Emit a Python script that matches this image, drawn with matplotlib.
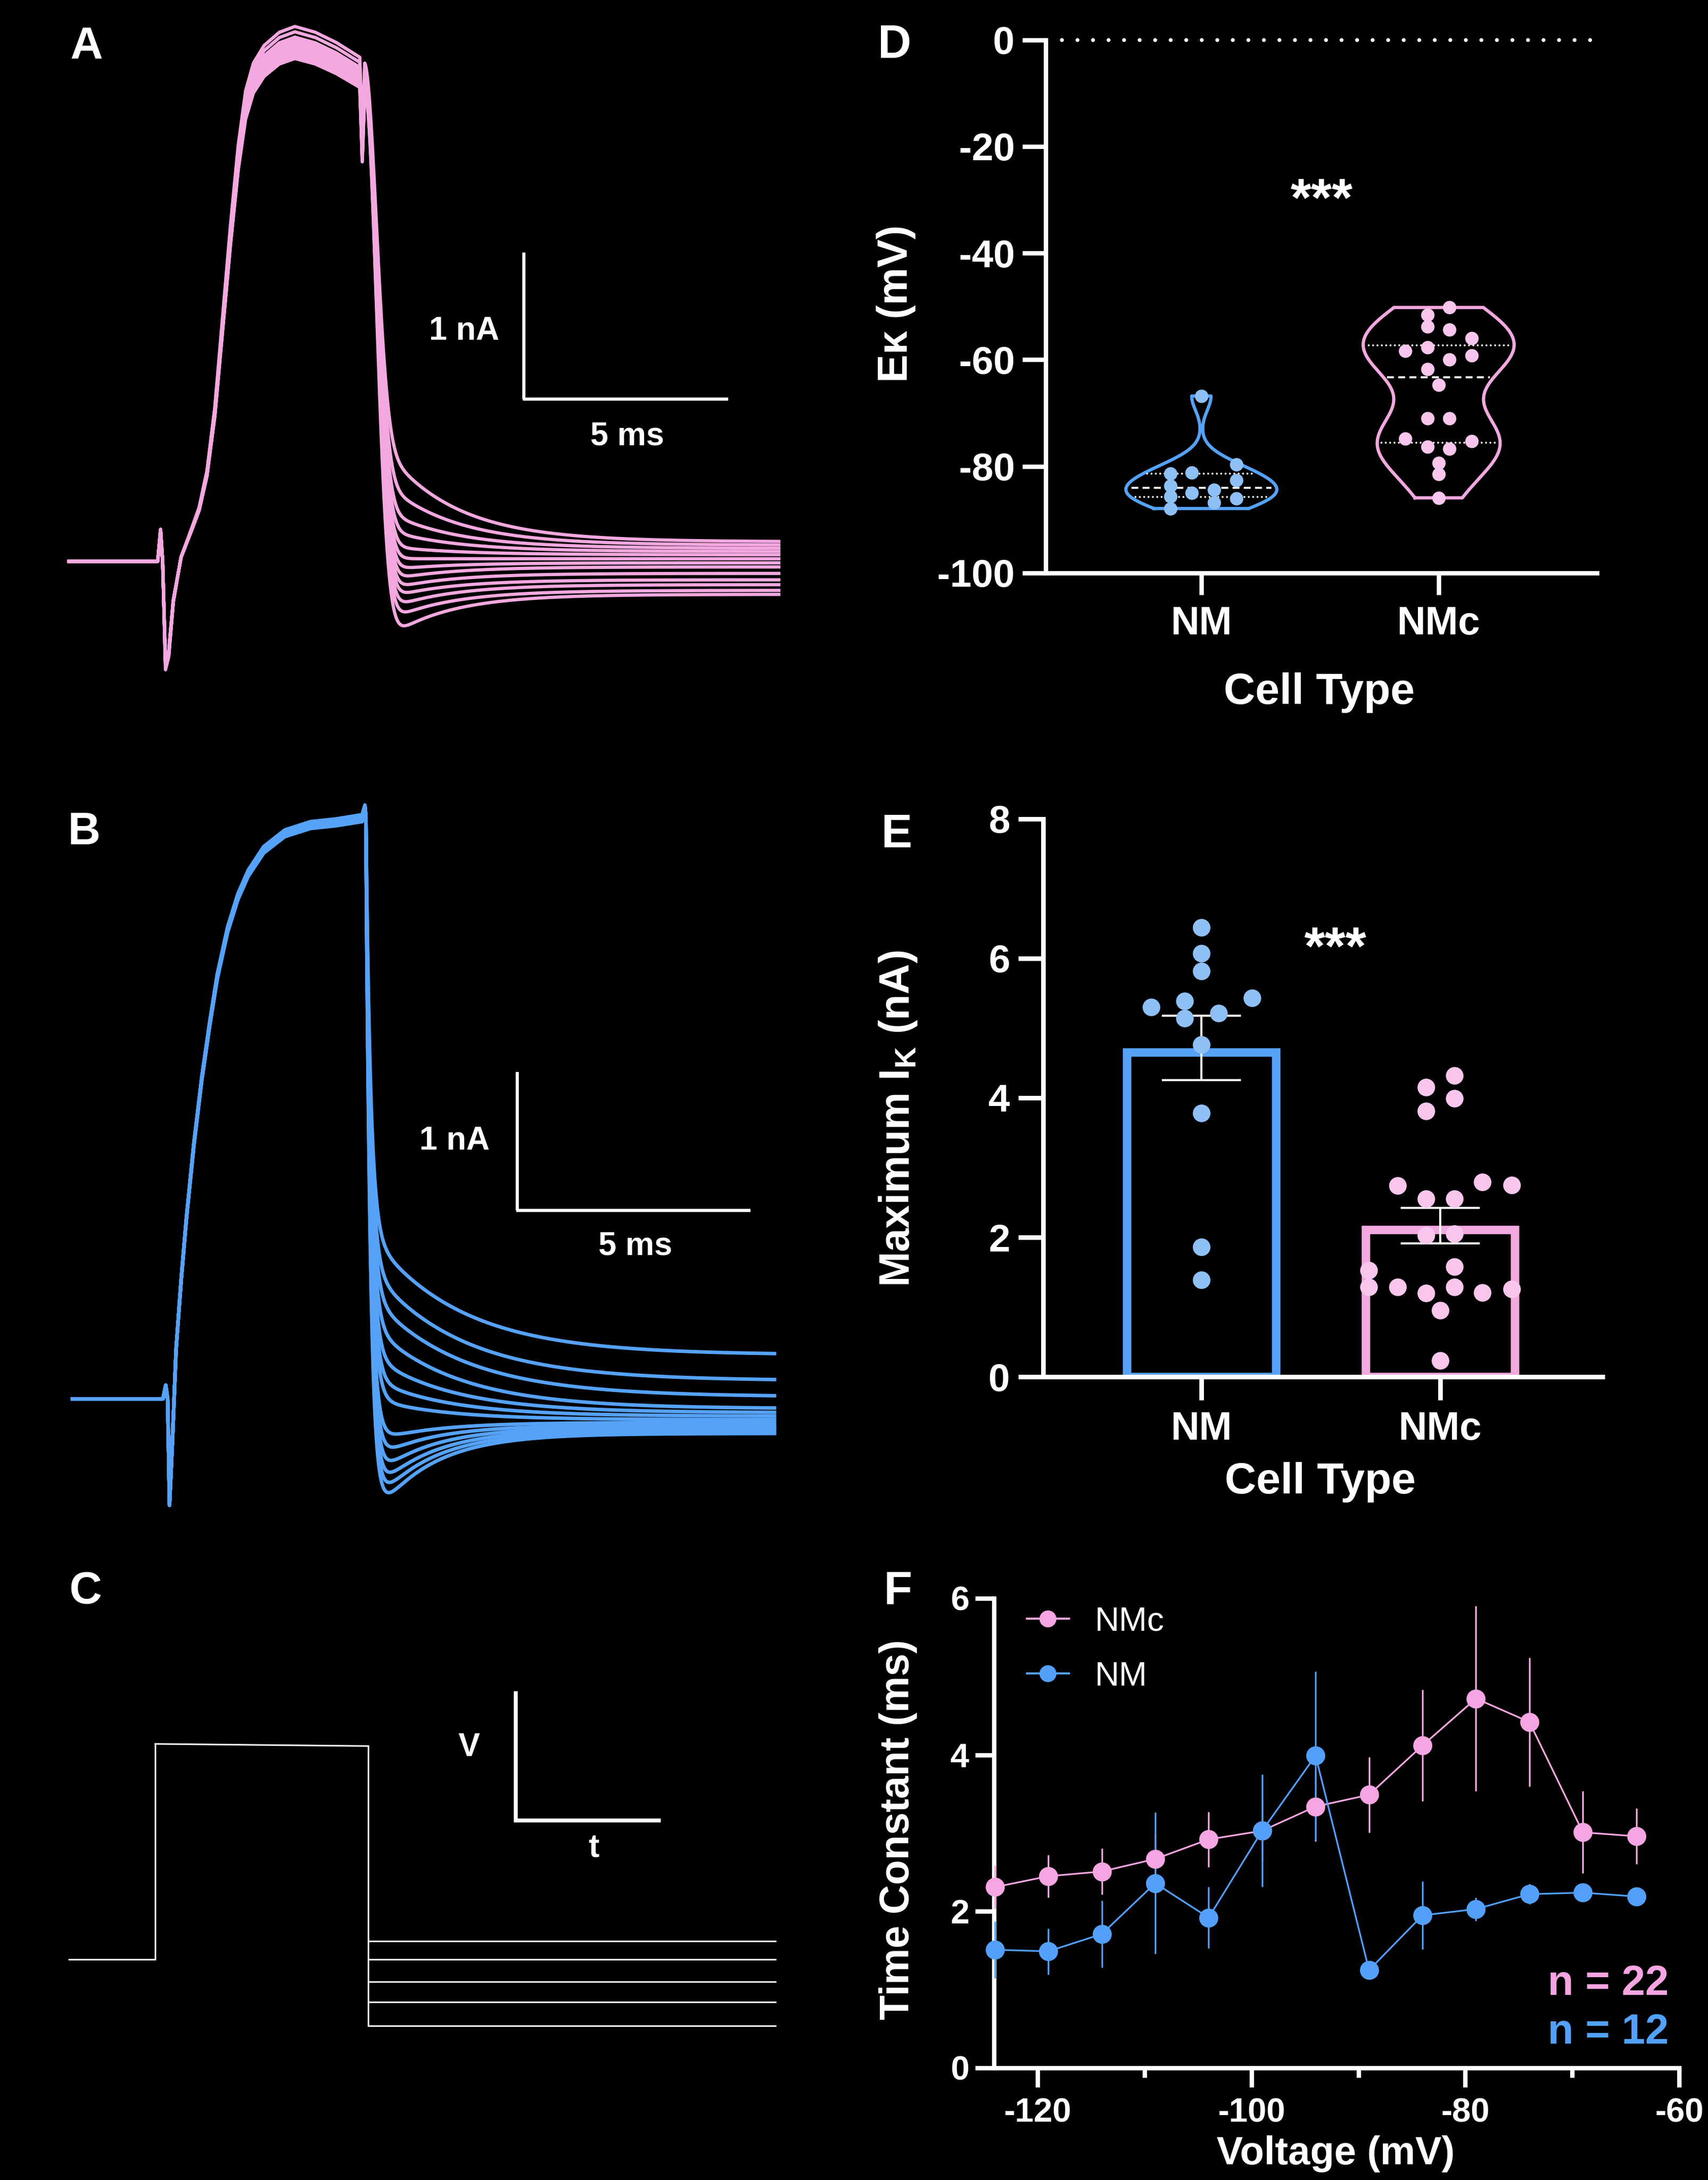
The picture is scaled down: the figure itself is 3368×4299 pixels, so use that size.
import numpy as np
import matplotlib
matplotlib.use("Agg")
import matplotlib.pyplot as plt
from matplotlib.lines import Line2D

plt.rcParams['font.family'] = ['Liberation Sans', 'DejaVu Sans']
plt.rcParams['mathtext.default'] = 'regular'

W, H, DPI = 3368, 4299, 100

# ============================ DATA ============================
cell_types = ['NM', 'NMc']

# Panel A: NMc current traces (time in ms, current in nA)
a_step_t = [0.0, 2.10, 2.16, 2.23, 2.28, 2.35, 2.43, 2.54, 2.73, 2.98, 3.17, 3.36, 3.55,
            3.74, 3.93, 4.12, 4.30, 4.49, 4.75, 5.12, 5.50, 6.00, 6.51, 7.08, 7.14, 7.20]
a_step_i = [0.0, 0.0, 0.0, 0.22, 0.0, -0.74, -0.65, -0.28, 0.03, 0.22, 0.37, 0.62, 1.05,
            1.67, 2.29, 2.84, 3.21, 3.40, 3.52, 3.61, 3.65, 3.61, 3.54, 3.44, 2.90, 3.40]
a_plateau_scale = [1.0, 0.99, 0.98, 0.975, 0.97, 0.965, 0.96, 0.955, 0.95, 0.948, 0.945, 0.942, 0.94]
a_tail_ss = [0.134, 0.111, 0.089, 0.067, 0.045, 0.018, -0.010, -0.038, -0.082, -0.126, -0.159, -0.198, -0.225]
a_tail_amp = [0.84, 0.56, 0.34, 0.20, 0.08, 0.0, -0.07, -0.13, -0.16, -0.18, -0.24, -0.30, -0.43]
a_tail_tau = [1.7, 1.7, 1.7, 1.7, 1.7, 1.6, 1.5, 1.5, 1.5, 1.5, 1.5, 1.5, 1.5]
a_fall_tau = 0.40
a_t_end = 17.28

# Panel B: NM current traces
b_step_t = [0.0, 1.93, 1.99, 2.03, 2.07, 2.13, 2.21, 2.32, 2.43, 2.59, 2.76, 2.93, 3.09,
            3.31, 3.53, 3.75, 4.08, 4.53, 5.08, 5.63, 6.18, 6.24, 6.26]
b_step_i = [0.0, 0.0, 0.10, 0.0, -0.77, -0.32, 0.36, 0.87, 1.31, 1.85, 2.33, 2.73, 3.07,
            3.41, 3.65, 3.82, 3.99, 4.11, 4.17, 4.19, 4.22, 4.29, 4.22]
b_plateau_scale = [1.0, 0.999, 0.998, 0.997, 0.996, 0.995, 0.994, 0.993, 0.992, 0.991, 0.990, 0.989, 0.988]
b_tail_ss = [0.318, 0.131, 0.015, -0.071, -0.10, -0.125, -0.15, -0.17, -0.19, -0.205, -0.22, -0.235, -0.25]
b_tail_amp = [0.91, 0.85, 0.77, 0.64, 0.44, 0.29, 0.165, -0.15, -0.28, -0.41, -0.52, -0.61, -0.70]
b_tail_tau = [1.9, 1.9, 1.9, 1.8, 1.7, 1.6, 1.5, 1.3, 1.2, 1.2, 1.2, 1.2, 1.2]
b_fall_tau = 0.10
b_t_end = 14.98

# Panel C: voltage protocol (time in ms, relative voltage units)
c_times = [0.0, 2.10, 7.29, 17.2]
c_hold = 0.0
c_step = [1.0, 0.99]
c_tails = [0.085, 0.0, -0.103, -0.198, -0.309]

# Panel D: E_K (mV)
d_nm = [-66.8, -79.6, -81.4, -81.2, -82.6, -83.6, -85.0, -84.4, -85.6, -86.0, -86.8, -87.9]
d_nm_off = [0.0, 0.147, -0.131, -0.041, 0.147, -0.131, -0.041, 0.053, -0.131, 0.147, 0.053, -0.131]
d_nmc = [-50.2, -51.6, -53.8, -54.3, -56.0, -58.3, -57.7, -59.2, -60.0, -61.8, -64.7,
         -71.0, -71.0, -74.8, -75.3, -76.3, -76.7, -79.4, -81.5, -85.9]
d_nmc_off = [0.046, -0.046, -0.046, 0.046, 0.140, -0.140, -0.046, 0.140, 0.046, -0.046, 0.0,
             -0.046, 0.046, -0.140, 0.140, -0.046, 0.046, 0.0, 0.0, 0.0]
d_yticks = [0, -20, -40, -60, -80, -100]

# Panel E: maximum I_K (nA)
e_nm = [6.44, 6.07, 5.82, 5.43, 5.39, 5.30, 5.21, 5.14, 4.76, 3.78, 1.86, 1.39]
e_nm_off = [0.0, 0.0, 0.0, 0.213, -0.069, -0.210, 0.073, -0.069, 0.0, 0.0, 0.0, 0.0]
e_nmc = [4.32, 4.15, 3.99, 3.81, 2.79, 2.75, 2.74, 2.55, 2.55, 2.03, 2.05, 1.53, 1.58,
         1.29, 1.29, 1.29, 1.26, 1.20, 1.21, 0.95, 0.23]
e_nmc_off = [0.059, -0.059, 0.059, -0.059, 0.176, 0.299, -0.178, -0.059, 0.059, -0.059, 0.059,
             -0.299, 0.059, -0.299, -0.178, 0.059, 0.299, -0.059, 0.176, 0.0, 0.0]
e_yticks = [0, 2, 4, 6, 8]

# Panel F: time constant (ms) vs voltage (mV)
f_volt = [-124, -119, -114, -109, -104, -99, -94, -89, -84, -79, -74, -69, -64]
f_nmc_mean = [2.31, 2.45, 2.51, 2.67, 2.92, 3.03, 3.34, 3.49, 4.12, 4.72, 4.42, 3.01, 2.96]
f_nmc_sem = [0.275, 0.27, 0.295, 0.32, 0.355, 0.39, 0.445, 0.485, 0.715, 1.18, 0.825, 0.525, 0.355]
f_nm_mean = [1.51, 1.49, 1.71, 2.36, 1.92, 3.03, 3.99, 1.25, 1.95, 2.03, 2.22, 2.24, 2.19]
f_nm_sem = [0.36, 0.295, 0.43, 0.905, 0.39, 0.72, 1.08, 0.03, 0.435, 0.15, 0.13, 0.03, 0.02]
f_xticks = [-120, -100, -80, -60]
f_xminor = [-110, -90, -70]
f_yticks = [0, 2, 4, 6]
f_n = {'NMc': 22, 'NM': 12}

# ============================ STYLE ============================
PINK = '#F3A8DF'
PINK_PT = '#F8C6EC'
BLUE = '#55A2F8'
BLUE_PT = '#8EC0F6'
PINK_F = '#F5A5E1'
BLUE_F = '#52A0FA'

fig = plt.figure(figsize=(W / DPI, H / DPI), dpi=DPI, facecolor='black')


def add_ax(x0, y0, x1, y1):
    ax = fig.add_axes([x0 / W, 1 - y1 / H, (x1 - x0) / W, (y1 - y0) / H])
    ax.set_facecolor('none')
    return ax


def ctext(x, y, s, size, weight='bold', ha='center', rotation=0, color='white'):
    """Place text so that the cap-height centre sits at pixel (x, y)."""
    off = 0.358 * size * DPI / 72.0
    if rotation == 0:
        fig.text(x / W, 1 - (y + off) / H, s, fontsize=size, fontweight=weight,
                 ha=ha, va='baseline', color=color)
    else:
        fig.text((x + off) / W, 1 - y / H, s, fontsize=size, fontweight=weight,
                 ha=ha, va='baseline', rotation=90, rotation_mode='anchor', color=color)


def trace_axes(box, x0px, ppt, y0px, ppi):
    L, T, R, B = box
    ax = add_ax(L, T, R, B)
    ax.set_xlim((L - x0px) / ppt, (R - x0px) / ppt)
    ax.set_ylim((y0px - B) / ppi, (y0px - T) / ppi)
    ax.axis('off')
    return ax


def build_traces(step_t, step_i, scales, ss, amp, tau, fall_tau, fall_pow, t_end):
    st = np.asarray(step_t, float)
    si = np.asarray(step_i, float)
    te = st[-1]
    tt = np.linspace(te, t_end, 900)
    dt = tt - te
    out = []
    for k in range(len(ss)):
        i_step = si * scales[k]
        i0 = i_step[-1]
        fast = (i0 - ss[k] - amp[k]) * np.exp(-(dt / fall_tau) ** fall_pow)
        tail = ss[k] + fast + amp[k] * np.exp(-dt / tau[k])
        out.append((np.concatenate([st, tt[1:]]), np.concatenate([i_step, tail[1:]])))
    return out


# ---------------- Panel A ----------------
axA = trace_axes((55, 9, 1675, 1454), 136, 81.0, 1107, 289.0)
for t, i in build_traces(a_step_t, a_step_i, a_plateau_scale, a_tail_ss, a_tail_amp,
                         a_tail_tau, a_fall_tau, 2, a_t_end):
    axA.plot(t, i, color=PINK, lw=4.6, solid_joinstyle='round', clip_on=False)
axA.plot([11.08, 11.08], [2.107, 1.107], color='white', lw=4.5, solid_capstyle='butt')
axA.plot([11.05, 16.05], [1.107, 1.107], color='white', lw=4.5, solid_capstyle='butt')
ctext(915, 647, '1 nA', 46)
ctext(1237, 855, '5 ms', 46)
ctext(171, 85, 'A', 64)

# ---------------- Panel B ----------------
axB = trace_axes((55, 1560, 1675, 3040), 143, 92.4, 2758.6, 273.0)
for t, i in build_traces(b_step_t, b_step_i, b_plateau_scale, b_tail_ss, b_tail_amp,
                         b_tail_tau, b_fall_tau, 1, b_t_end):
    axB.plot(t, i, color=BLUE, lw=5.0, solid_joinstyle='round', clip_on=False)
axB.plot([9.49, 9.49], [2.361, 1.361], color='white', lw=4.5, solid_capstyle='butt')
axB.plot([9.47, 14.47], [1.361, 1.361], color='white', lw=4.5, solid_capstyle='butt')
ctext(896, 2244, '1 nA', 46)
ctext(1253, 2452, '5 ms', 46)
ctext(166, 1633, 'B', 64)

# ---------------- Panel C ----------------
axC = trace_axes((55, 3100, 1675, 4250), 136, 81.0, 3864, 425.0)
lw_c = 2.2
axC.plot([c_times[0], c_times[1]], [c_hold, c_hold], color='white', lw=lw_c)
axC.plot([c_times[1], c_times[1]], [c_hold, c_step[0]], color='white', lw=lw_c)
axC.plot([c_times[1], c_times[2]], [c_step[0], c_step[1]], color='white', lw=lw_c)
axC.plot([c_times[2], c_times[2]], [c_step[1], min(c_tails)], color='white', lw=lw_c)
for lv in c_tails:
    axC.plot([c_times[2], c_times[3]], [lv, lv], color='white', lw=lw_c)
axC.plot([10.88, 10.88], [1.235, 0.645], color='white', lw=5.5, solid_capstyle='projecting')
axC.plot([10.88, 14.41], [0.645, 0.645], color='white', lw=5.5, solid_capstyle='butt')
ctext(925, 3440, 'V', 46)
ctext(1171, 3640, 't', 46)
ctext(168, 3130, 'C', 64)


def style_axes(ax, lw=6.0):
    for s in ['top', 'right']:
        ax.spines[s].set_visible(False)
    for s in ['left', 'bottom']:
        ax.spines[s].set_color('white')
        ax.spines[s].set_linewidth(lw)
        ax.spines[s].set_capstyle('projecting')
    ax.tick_params(colors='white', width=lw)


# ---------------- Panel D ----------------
axD = add_ax(2062, 78.6, 3149, 1130)
axD.set_xlim(-0.656, 1.667)
axD.set_ylim(-100, 0)
style_axes(axD, 6.2)
axD.set_yticks(d_yticks, [str(v) for v in d_yticks])
axD.set_xticks([0, 1], cell_types)
axD.tick_params(axis='y', length=33, pad=11, labelsize=55)
axD.tick_params(axis='x', length=31, pad=15, labelsize=56)
for lab in axD.get_xticklabels() + axD.get_yticklabels():
    lab.set_fontweight('bold')

axD.plot([-0.588, 1.656], [0, 0], color='white', lw=5.5, ls=(0, (0.01, 4.0)),
         dash_capstyle='round', clip_on=False)


def kde_width(data, grid, half_w, bw_scale=0.8):
    d = np.asarray(data, float)
    h = d.std(ddof=1) * d.size ** (-0.2) * bw_scale
    dens = np.exp(-0.5 * ((grid[:, None] - d[None, :]) / h) ** 2).sum(axis=1)
    return dens / dens.max() * half_w


def draw_violin(ax, pos, data, color, half_w=0.318):
    d = np.asarray(data, float)
    grid = np.linspace(d.min(), d.max(), 500)
    w = kde_width(d, grid, half_w)
    xs = np.concatenate([pos - w, (pos + w)[::-1], [pos - w[0]]])
    ys = np.concatenate([grid, grid[::-1], [grid[0]]])
    ax.plot(xs, ys, color=color, lw=4.6, solid_joinstyle='round', zorder=3)
    q1, med, q3 = np.percentile(d, [25, 50, 75])
    for q, ls in [(q1, (0, (0.01, 2.2))), (q3, (0, (0.01, 2.2))), (med, (0, (3.5, 2.2)))]:
        wq = np.interp(q, grid, w) * 0.93
        ax.plot([pos - wq, pos + wq], [q, q], color='white', lw=2.8, ls=ls,
                dash_capstyle='round' if ls[1][0] < 1 else 'butt', zorder=4)


draw_violin(axD, 0, d_nm, BLUE)
draw_violin(axD, 1, d_nmc, PINK)
axD.scatter(np.array(d_nm_off) + 0, d_nm, s=19 ** 2, color=BLUE_PT, linewidths=0, zorder=5, clip_on=False)
axD.scatter(np.array(d_nmc_off) + 1, d_nmc, s=19 ** 2, color=PINK_PT, linewidths=0, zorder=5, clip_on=False)

ctext(1759, 599, 'Eκ (mV)', 60, rotation=90)
ctext(2601, 1357, 'Cell Type', 62)
fig.text(2606 / W, 1 - 426 / H, '***', fontsize=76, fontweight='bold', color='white',
         ha='center', va='baseline')
ctext(1764, 81, 'D', 66)

# ---------------- Panel E ----------------
axE = add_ax(2057, 1614.7, 3160, 2715.1)
axE.set_xlim(-0.662, 1.679)
axE.set_ylim(0, 8)
style_axes(axE, 6.5)
axE.set_yticks(e_yticks, [str(v) for v in e_yticks])
axE.set_xticks([0, 1], cell_types)
axE.tick_params(axis='y', length=35, pad=12, labelsize=55)
axE.tick_params(axis='x', length=33, pad=15, labelsize=56)
for lab in axE.get_xticklabels() + axE.get_yticklabels():
    lab.set_fontweight('bold')

bar_lw = 12.0
half_px = bar_lw * DPI / 72.0 / 2
ax_w_px = 3160 - 2057
ax_h_px = 2715.1 - 1614.7
dx = half_px / (ax_w_px / (1.679 + 0.662))
dy = half_px / (ax_h_px / 8.0)
outer_w = 0.658
for k, (vals, col, pcol, offs) in enumerate([(e_nm, BLUE, BLUE_PT, e_nm_off),
                                              (e_nmc, PINK, PINK_PT, e_nmc_off)]):
    v = np.asarray(vals, float)
    m = v.mean()
    sem = v.std(ddof=1) / np.sqrt(v.size)
    axE.bar(k, m - dy, width=outer_w - 2 * dx, bottom=0, facecolor='none',
            edgecolor=col, lw=bar_lw, zorder=2)
    axE.errorbar(k, m, yerr=sem, fmt='none', ecolor='white', elinewidth=3.0,
                 capsize=56, capthick=3.0, zorder=3)
    axE.scatter(k + np.asarray(offs), v, s=25 ** 2, color=pcol, linewidths=0, zorder=5, clip_on=False)

ctext(1763, 2206, 'Maximum I$_{K}$ (nA)', 60, rotation=90)
ctext(2603, 2914, 'Cell Type', 62)
fig.text(2633 / W, 1 - 1902 / H, '***', fontsize=76, fontweight='bold', color='white',
         ha='center', va='baseline')
ctext(1768, 1638, 'E', 66)

# ---------------- Panel F ----------------
axF = add_ax(1960, 3152, 3311, 4078)
axF.set_xlim(-124.08, -60)
axF.set_ylim(0, 6)
style_axes(axF, 6.2)
axF.set_xticks(f_xticks, [str(v) for v in f_xticks])
axF.set_xticks(f_xminor, minor=True)
axF.set_yticks(f_yticks, [str(v) for v in f_yticks])
axF.tick_params(axis='y', length=27, pad=8, labelsize=48)
axF.tick_params(axis='x', which='major', length=27, pad=15, labelsize=48)
axF.tick_params(axis='x', which='minor', length=14, width=6.2, colors='white')
for lab in axF.get_xticklabels() + axF.get_yticklabels():
    lab.set_fontweight('bold')

for mean, sem, col in [(f_nmc_mean, f_nmc_sem, PINK_F), (f_nm_mean, f_nm_sem, BLUE_F)]:
    cont = axF.errorbar(f_volt, mean, yerr=sem, color=col, marker='o', ms=27, mew=0,
                        lw=2.4, elinewidth=2.4, capsize=15, capthick=2.4, zorder=4)
    for art in cont.get_children():
        art.set_clip_on(False)

# legend (manual)
for y, col, name in [(3192, PINK_F, 'NMc'), (3300, BLUE_F, 'NM')]:
    fig.add_artist(Line2D([2025 / W, 2108 / W], [1 - y / H, 1 - y / H], color=col, lw=3.0,
                          transform=fig.transFigure))
    fig.add_artist(Line2D([2066 / W], [1 - y / H], color=col, marker='o', ms=24, mew=0,
                          transform=fig.transFigure))
    ctext(2158, y, name, 48, weight='normal', ha='left')

ctext(3291, 3904, 'n = %d' % f_n['NMc'], 60, ha='right', color=PINK_F)
ctext(3291, 4000, 'n = %d' % f_n['NM'], 60, ha='right', color=BLUE_F)
ctext(1763, 3608, 'Time Constant (ms)', 58, rotation=90)
ctext(2634, 4240, 'Voltage (mV)', 56)
ctext(1771, 3130, 'F', 66)

fig.savefig('out.png', dpi=DPI, facecolor='black')
